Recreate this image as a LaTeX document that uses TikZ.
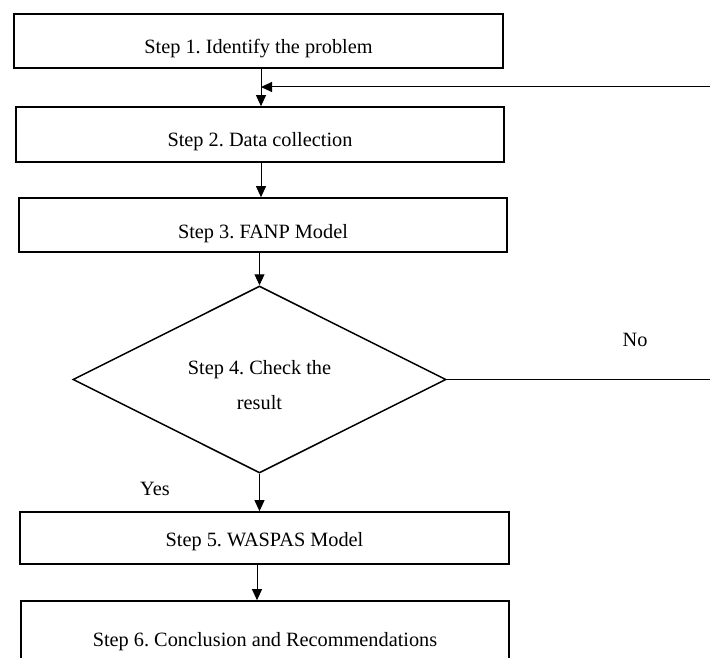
\documentclass[tikz,border=0pt]{standalone}
\usepackage{fontspec}
\setmainfont{Liberation Serif}
\usetikzlibrary{shapes.geometric,arrows.meta}
\frenchspacing
\begin{document}
\begin{tikzpicture}[x=1pt,y=-1pt,
  every node/.style={font=\fontsize{20.3}{35}\selectfont\frenchspacing},
  stepbox/.style={draw=black, line width=1.7pt, rectangle, inner sep=0pt, text depth=0pt, text height=#1},
  decision/.style={draw=black, line width=1.5pt, diamond, inner sep=0pt,
    minimum width=373pt, minimum height=187pt, text height=0pt, text depth=10pt},
  flow/.style={draw=black, line width=1pt, -{Triangle[length=11pt,width=10pt]}},
  plainline/.style={draw=black, line width=1pt}]
\useasboundingbox (0,0) rectangle (710,658);
\clip (0,0) rectangle (710,658);

\node[stepbox=25pt, minimum width=489pt, minimum height=54pt] (s1) at (258.5,41) {Step 1. Identify the problem};
\node[stepbox=24pt, minimum width=488pt, minimum height=55pt] (s2) at (260,134.5) {Step 2. Data collection};
\node[stepbox=27pt, minimum width=488pt, minimum height=54pt] (s3) at (263,225) {Step 3. FANP Model};
\node[decision] (d) at (259.5,379.5) {\begin{tabular}[t]{@{}c@{}}Step 4. Check the\\ result\end{tabular}};
\node[stepbox=17pt, minimum width=489pt, minimum height=52pt] (s5) at (264.5,538) {Step 5. WASPAS Model};
\node[stepbox=12pt, minimum width=488pt, minimum height=79pt] (s6) at (265,640.5) {Step 6. Conclusion and Recommendations};

\node (no) at (635,340) {No};
\node (yes) at (155,489) {Yes};

\coordinate (ax) at (261,0);
\coordinate (ax2) at (257,0);
\coordinate (fbR) at (710,87);
\coordinate (noR) at (710,381);

\draw[flow] (s1.south -| ax) -- (s2.north -| ax);
\draw[flow] (fbR) -- (fbR -| ax);
\draw[flow] (s2.south -| ax) -- (s3.north -| ax);
\draw[flow] (s3.south -| d.north) -- (d.north);
\draw[flow] (d.south) -- (s5.north -| d.south);
\draw[flow] (s5.south -| ax2) -- (s6.north -| ax2);
\draw[plainline] (d.east) -- (d.east -| noR);
\end{tikzpicture}
\end{document}
